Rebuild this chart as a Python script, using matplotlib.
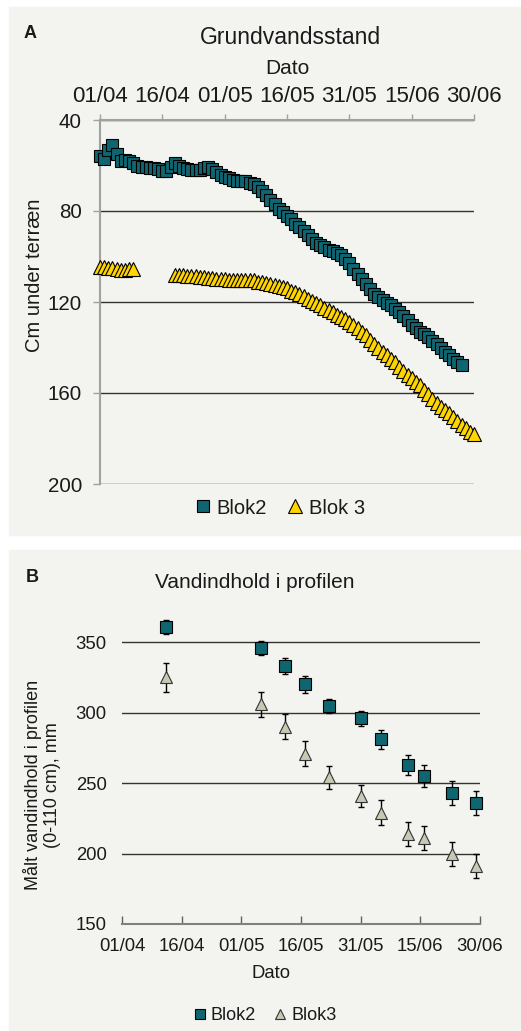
import numpy as np
import matplotlib
matplotlib.use("Agg")
import matplotlib.pyplot as plt
import matplotlib.dates as mdates
from matplotlib.patches import Rectangle
from matplotlib.lines import Line2D

plt.rcParams["font.family"] = ["Liberation Sans", "DejaVu Sans"]

W, H = 521, 1031

# --- Panel A: grundvandsstand, daglige målinger fra 01/04 (cm under terræn)
start_a = "2013-04-01"
blok2_a = [56, 57, 53, 51, 55, 58, 57.5, 58, 59, 60,
           60.5, 60.5, 61, 61, 61.5, 62.5, 62.5, 60.5, 59, 60,
           61, 61.5, 62, 62, 62, 61, 60.5, 61.5, 63, 64,
           65, 65.5, 66.5, 67, 67, 67, 67.5, 68, 69.5, 71,
           73, 75, 77, 79, 80.5, 82, 83.5, 85.5, 87, 89,
           90.5, 92.5, 94, 95, 96, 97, 97.5, 98.5, 99.5, 101,
           103, 105.5, 107.5, 110, 112, 114.5, 116.5, 118, 119, 120.5,
           121.5, 123, 124.5, 126, 128, 130, 131.5, 133, 134, 135.5,
           137, 138.5, 140, 142, 143.5, 145, 146.5, 147.5]
nan = np.nan
blok3_a = [104.5, 104.5, 105, 105, 105.5, 106, 106, 105.5, 105.5,
           nan, nan, nan, nan, nan, nan, nan, nan, nan,
           108, 108, 108, 108.5, 108.5, 108.5, 109, 109, 109.5, 109.5,
           110, 110, 110, 110.5, 110.5, 110.5, 110.5, 110.5, 110.5, 110.5,
           111, 111, 111.5, 112, 112.5, 113, 113.5, 114, 115, 115.5,
           116.5, 117.5, 118.5, 119.5, 120.5, 121.5, 122.5, 123.5, 124.5, 125.5,
           126.5, 127.5, 129, 130, 131.5, 133, 134.5, 136.5, 138.5, 140,
           142, 143.5, 145, 146.5, 148.5, 150.5, 152, 153.5, 155, 156.5,
           158.5, 160.5, 162.5, 164.5, 166, 167.5, 169, 170.5, 172.5, 174,
           175.5, 177, 178]
yticks_a = [40, 80, 120, 160, 200]

# --- Panel B: vandindhold i profilen (mm)
dates_b = ["2013-04-12", "2013-05-06", "2013-05-12", "2013-05-17", "2013-05-23", "2013-05-31",
           "2013-06-05", "2013-06-12", "2013-06-16", "2013-06-23", "2013-06-29"]
blok2_b = [361, 346, 333, 320, 305, 296, 281, 263, 255, 243, 236]
blok2_b_err = [5, 5, 5.5, 6, 5, 5.5, 6.5, 7, 8, 8.5, 8.5]
blok3_b = [325, 306, 290, 271, 254, 241, 229, 214, 211, 200, 191]
blok3_b_err = [10, 9, 9, 9, 8, 8, 9, 8.5, 8.5, 8.5, 8.5]
yticks_b = [150, 200, 250, 300, 350]

tick_dates = ["2013-04-01", "2013-04-16", "2013-05-01", "2013-05-16",
              "2013-05-31", "2013-06-15", "2013-06-30"]

teal = "#0f6570"
gold = "#ffd500"
greige = "#c8c8b4"
panel = "#f3f3ef"
txt = "#1a1a1a"


def fx(px):
    return px / W


def fy(py):
    return 1 - py / H


fig = plt.figure(figsize=(W / 100, H / 100), dpi=100)
fig.patch.set_facecolor("white")
fig.patches.append(Rectangle((fx(9), fy(535)), 1, fy(7) - fy(535),
                             transform=fig.transFigure, color=panel, zorder=-5))
fig.patches.append(Rectangle((fx(9), 0), 1, fy(550),
                             transform=fig.transFigure, color=panel, zorder=-5))

tick_x = np.array(tick_dates, dtype="datetime64[D]")

# ---------------- Panel A
axA = fig.add_axes([fx(100), fy(484), fx(474) - fx(100), fy(120) - fy(484)])
axA.set_facecolor("none")
days_a = np.datetime64(start_a) + np.arange(len(blok2_a))
days_a3 = np.datetime64(start_a) + np.arange(len(blok3_a))
axA.plot(days_a3, blok3_a, linestyle="none", marker="^", ms=9.5, mfc=gold,
         mec="black", mew=0.8, zorder=3, clip_on=False)
axA.plot(days_a, blok2_a, linestyle="none", marker="s", ms=8.5, mfc=teal,
         mec="black", mew=0.8, zorder=3, clip_on=False)
axA.set_xlim(tick_x[0], tick_x[-1])
axA.set_ylim(200, 40)
axA.set_yticks(yticks_a)
axA.set_xticks(tick_x)
axA.xaxis.set_major_formatter(mdates.DateFormatter("%d/%m"))
axA.xaxis.tick_top()
axA.grid(axis="y", color="#333333", lw=1)
for s in ["right", "bottom"]:
    axA.spines[s].set_visible(False)
for s in ["left", "top"]:
    axA.spines[s].set_color("#a0a0a0")
    axA.spines[s].set_linewidth(1.5)
axA.tick_params(axis="x", direction="out", length=4.5, width=1, color="#a0a0a0",
                labelsize=16, pad=5, labelcolor=txt)
axA.tick_params(axis="y", direction="out", length=5, width=1, color="#a0a0a0",
                labelsize=14.8, pad=8, labelcolor=txt)

fig.text(fx(30), fy(33), "A", fontsize=13, fontweight="bold", ha="center", va="center", color=txt)
fig.text(fx(290), fy(37), "Grundvandsstand", fontsize=16.5, ha="center", va="center", color=txt)
fig.text(fx(287), fy(68), "Dato", fontsize=15, ha="center", va="center", color=txt)
fig.text(fx(35), fy(275), "Cm under terræn", fontsize=14.5, rotation=90,
         ha="center", va="center", color=txt)

hA = [Line2D([], [], linestyle="none", marker="s", ms=8.5, mfc=teal, mec="black", mew=0.8),
      Line2D([], [], linestyle="none", marker="^", ms=9.5, mfc=gold, mec="black", mew=0.8)]
fig.legend(hA, ["Blok2", "Blok 3"], loc="center", bbox_to_anchor=(fx(280), fy(508)),
           ncol=2, frameon=False, fontsize=14.5, handlelength=0.8, handletextpad=0.3,
           columnspacing=1.0, labelcolor=txt)

# ---------------- Panel B
ylim_b = (150, 370)
axB = fig.add_axes([fx(122), fy(924), fx(480) - fx(122), fy(614) - fy(924)])
axB.set_facecolor("none")
db = np.array(dates_b, dtype="datetime64[D]")
axB.errorbar(db, blok2_b, yerr=blok2_b_err, fmt="none", ecolor="black", elinewidth=1,
             capsize=2.5, capthick=1, zorder=2, clip_on=False)
axB.errorbar(db, blok3_b, yerr=blok3_b_err, fmt="none", ecolor="black", elinewidth=1,
             capsize=2.5, capthick=1, zorder=2, clip_on=False)
axB.plot(db, blok2_b, linestyle="none", marker="s", ms=8.3, mfc=teal, mec="black",
         mew=0.8, zorder=3, clip_on=False)
axB.plot(db, blok3_b, linestyle="none", marker="^", ms=9, mfc=greige, mec="#333333",
         mew=0.8, zorder=3, clip_on=False)
axB.set_xlim(tick_x[0], tick_x[-1])
axB.set_ylim(*ylim_b)
axB.set_yticks(yticks_b)
axB.set_xticks(tick_x)
axB.xaxis.set_major_formatter(mdates.DateFormatter("%d/%m"))
axB.grid(axis="y", color="#333333", lw=1)
for s in ["right", "top", "left"]:
    axB.spines[s].set_visible(False)
axB.spines["bottom"].set_color("#808080")
axB.spines["bottom"].set_linewidth(1.5)
axB.tick_params(axis="x", direction="in", length=6, width=1, color="#606060",
                labelsize=13.3, pad=10, labelcolor=txt)
axB.tick_params(axis="y", length=0, labelsize=13.3, pad=11, labelcolor=txt)

fig.text(fx(32), fy(577), "B", fontsize=13, fontweight="bold", ha="center", va="center", color=txt)
fig.text(fx(255), fy(583), "Vandindhold i profilen", fontsize=15, ha="center", va="center", color=txt)
fig.text(fx(271), fy(973), "Dato", fontsize=13.3, ha="center", va="center", color=txt)
fig.text(fx(42), fy(785), "Målt vandindhold i profilen\n(0-110 cm), mm", fontsize=13,
         rotation=90, ha="center", va="center", color=txt, linespacing=1.1,
         multialignment="center")

hB = [Line2D([], [], linestyle="none", marker="s", ms=7, mfc=teal, mec="black", mew=0.8),
      Line2D([], [], linestyle="none", marker="^", ms=7, mfc=greige, mec="#333333", mew=0.8)]
fig.legend(hB, ["Blok2", "Blok3"], loc="center", bbox_to_anchor=(fx(265), fy(1016)),
           ncol=2, frameon=False, fontsize=13, handlelength=0.7, handletextpad=0.25,
           columnspacing=1.0, labelcolor=txt)

fig.savefig("out.png", dpi=100)
